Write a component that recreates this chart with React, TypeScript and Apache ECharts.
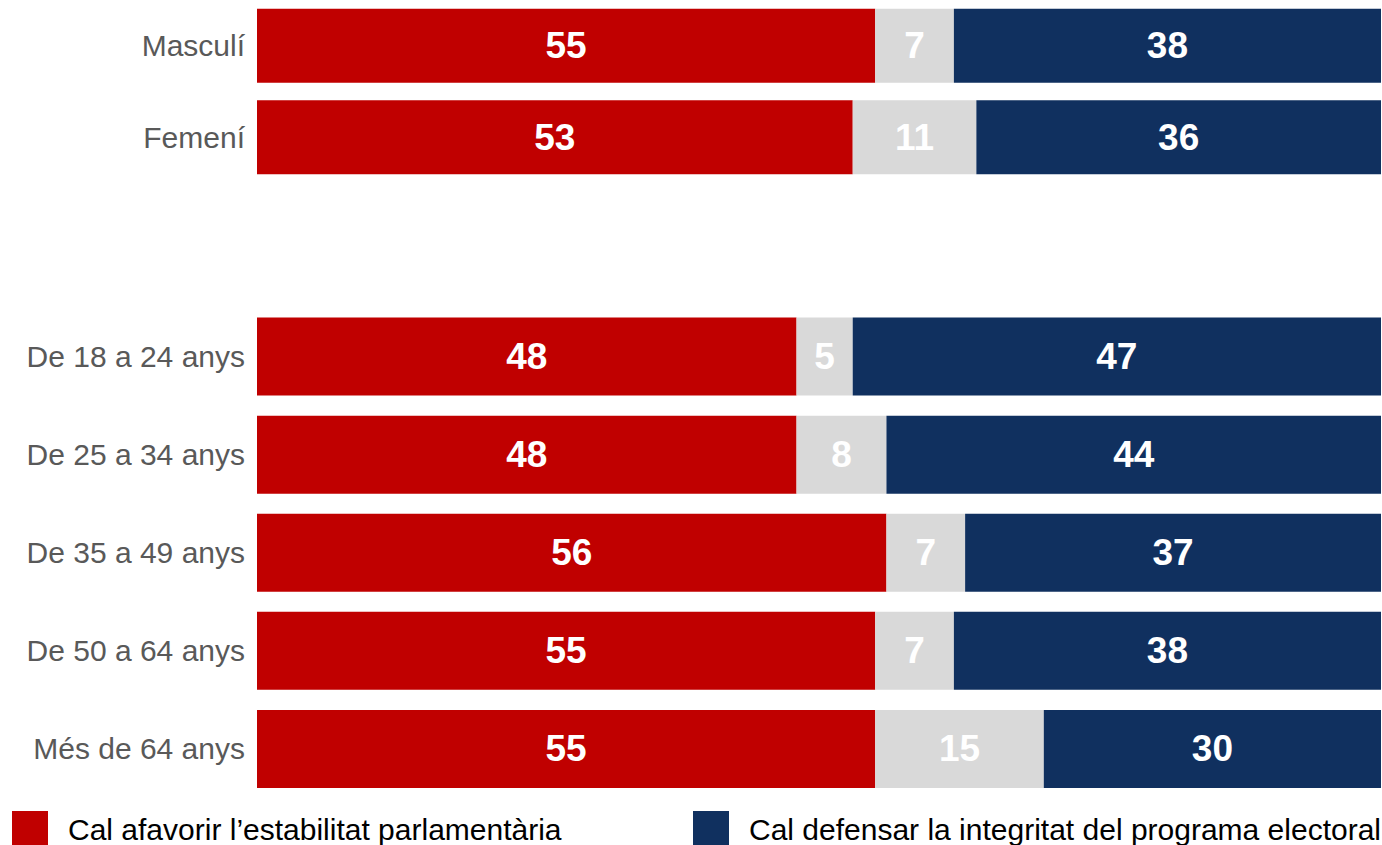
import React, { useEffect, useRef } from "react";
import * as echarts from "echarts";

const sexCategories = ["Masculí", "Femení"];
const ageCategories = ["De 18 a 24 anys", "De 25 a 34 anys", "De 35 a 49 anys", "De 50 a 64 anys", "Més de 64 anys"];

const seriesNames = ["Cal afavorir l’estabilitat parlamentària", "Ns/Nc", "Cal defensar la integritat del programa electoral"];

const sexStability = [55, 53];
const sexNone = [7, 11];
const sexProgram = [38, 36];

const ageStability = [48, 48, 56, 55, 55];
const ageNone = [5, 8, 7, 7, 15];
const ageProgram = [47, 44, 37, 38, 30];

const colors = ["#C00000", "#D9D9D9", "#10305F"];
const FONT = "'Liberation Sans', Arial, sans-serif";

export default function App() {
  const ref = useRef<HTMLDivElement>(null);
  useEffect(() => {
    if (!ref.current) return;
    const chart = echarts.init(ref.current, null, { renderer: "svg" });
    const makeSeries = (data: number[], idx: number, gridIdx: number, barW: number) => ({
      type: "bar",
      name: seriesNames[idx],
      stack: "s" + gridIdx,
      xAxisIndex: gridIdx,
      yAxisIndex: gridIdx,
      data,
      barWidth: barW,
      itemStyle: { color: colors[idx] },
      label: {
        show: true,
        position: "inside",
        color: "#FFFFFF",
        fontFamily: FONT,
        fontWeight: "bold",
        fontSize: 37,
        formatter: (p: any) => String(p.value),
      },
    });
    const xAxisBase = { type: "value", min: 0, max: 100, show: false };
    const yAxisBase = {
      type: "category",
      inverse: true,
      axisLine: { show: false },
      axisTick: { show: false },
      axisLabel: { color: "#595959", fontSize: 30, fontFamily: FONT, margin: 12 },
    };
    const legendText = { color: "#000000", fontSize: 30, fontFamily: FONT, padding: [0, 0, 0, 15], lineHeight: 30 };
    chart.setOption({
      animation: false,
      backgroundColor: "#FFFFFF",
      grid: [
        { left: 257, right: 1, top: -1, height: 184 },
        { left: 257, right: 1, top: 307.5, height: 490.5 },
      ],
      xAxis: [
        { ...xAxisBase, gridIndex: 0 },
        { ...xAxisBase, gridIndex: 1 },
      ],
      yAxis: [
        { ...yAxisBase, gridIndex: 0, data: sexCategories },
        { ...yAxisBase, gridIndex: 1, data: ageCategories },
      ],
      legend: [
        {
          data: [seriesNames[0]],
          left: 7,
          top: 806,
          itemWidth: 36,
          itemHeight: 36,
          icon: "rect",
          selectedMode: false,
          textStyle: legendText,
        },
        {
          data: [seriesNames[2]],
          left: 688,
          top: 806,
          itemWidth: 36,
          itemHeight: 36,
          icon: "rect",
          selectedMode: false,
          textStyle: legendText,
        },
      ],
      series: [
        makeSeries(sexStability, 0, 0, 74),
        makeSeries(sexNone, 1, 0, 74),
        makeSeries(sexProgram, 2, 0, 74),
        makeSeries(ageStability, 0, 1, 78),
        makeSeries(ageNone, 1, 1, 78),
        makeSeries(ageProgram, 2, 1, 78),
      ],
    });
    return () => chart.dispose();
  }, []);
  return (
    <div
      ref={ref}
      style={{ position: "absolute", left: 0, top: 0, width: 1382, height: 845 }}
    />
  );
}
